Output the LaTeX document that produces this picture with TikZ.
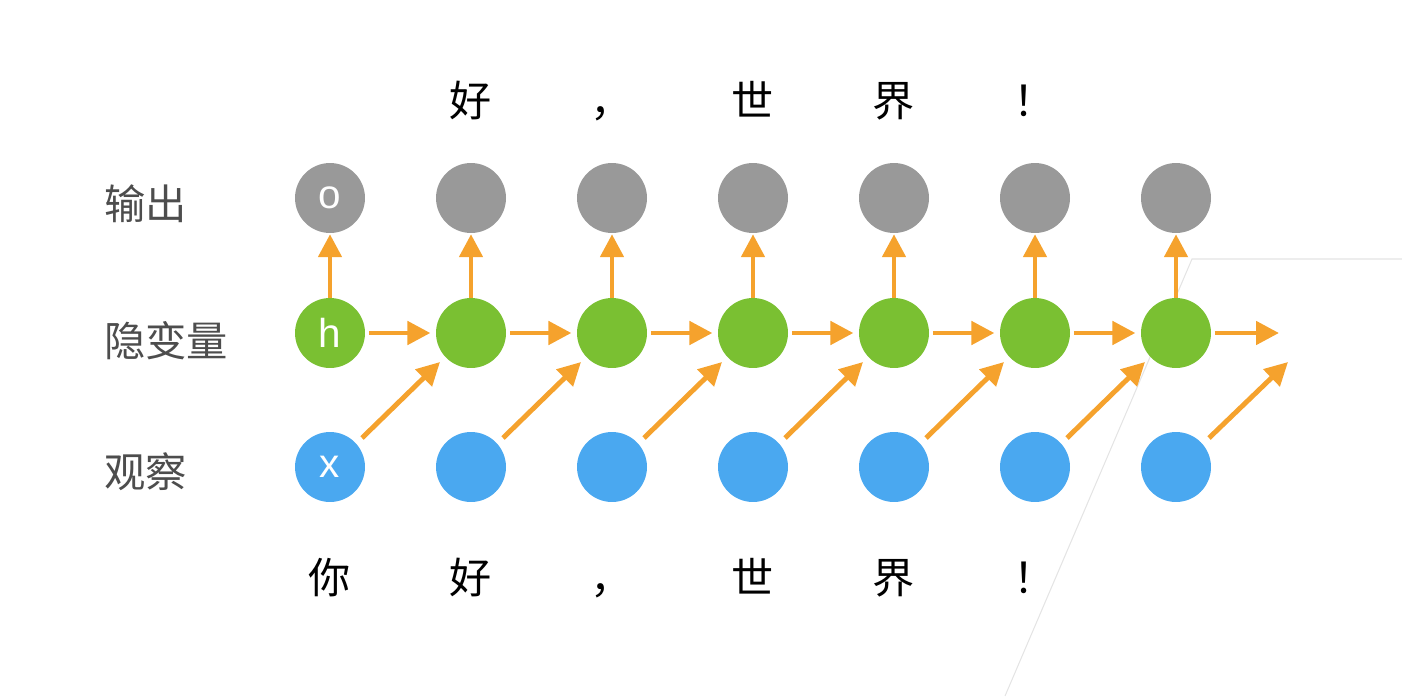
\documentclass[tikz,border=0pt]{standalone}
\usepackage{fontspec}
\setmainfont{Noto Sans CJK SC}
\newfontfamily\unitfont{Liberation Sans}
\usetikzlibrary{calc}
\usetikzlibrary{arrows.meta}
\usetikzlibrary{positioning}

\definecolor{outgray}{HTML}{999999}
\definecolor{hidgreen}{HTML}{7AC032}
\definecolor{obsblue}{HTML}{4AA8F0}
\definecolor{arrorange}{HTML}{F5A22D}
\definecolor{labelgray}{HTML}{4D4D4D}
\definecolor{faintline}{HTML}{E4E4E4}

\tikzset{
  unit/.style={circle, minimum size=1.4cm, inner sep=0pt, text=white, font=\unitfont\fontsize{23}{23}\selectfont},
  outunit/.style={unit, fill=outgray},
  hidunit/.style={unit, fill=hidgreen},
  obsunit/.style={unit, fill=obsblue},
  flow/.style={draw=arrorange, line width=2.8pt, -{Triangle[length=0.46cm,width=0.46cm]}},
  word/.style={inner sep=0pt, text height=0.88em, text depth=0.12em, font=\fontsize{24}{24}\selectfont},
  rowlabel/.style={anchor=west, inner sep=0pt, text=labelgray, font=\fontsize{23.5}{23.5}\selectfont}
}

\begin{document}
\begin{tikzpicture}[x=0.02cm, y=-0.02cm]
\useasboundingbox (0,0) rectangle (1402,696);

% faint frame lines at the right
\draw[faintline, line width=0.6pt] (1005,696) -- (1192,259) -- (1402,259);

% row labels
\node[rowlabel] (lout) at (104,204) {输出};
\node[rowlabel] (lhid) at (104,341) {隐变量};
\node[rowlabel] (lobs) at (104,472) {观察};

% units
\node[outunit] (o1) at (330,198) {\raisebox{-1.5pt}{o}};
\node[hidunit] (h1) at (330,333) {h};
\node[obsunit] (x1) at (330,467) {\raisebox{-1.5pt}{x}};
\foreach \i in {2,...,7} {
   \pgfmathsetmacro\cx{330+141*(\i-1)}
   \node[outunit] (o\i) at (\cx,198) {};
   \node[hidunit] (h\i) at (\cx,333) {};
   \node[obsunit] (x\i) at (\cx,467) {};
}
\coordinate (hnext) at (1279,333);
\coordinate (xnext) at (1288,362);

% words
\foreach \i/\w in {2/好, 3/，, 4/世, 5/界, 6/！} {
   \node[word] (out\i) at ($(o\i)+(0,-88)$) {\w};
}
\foreach \i/\w in {1/你, 2/好, 3/，, 4/世, 5/界, 6/！} {
   \node[word] (in\i) at ($(x\i)+(0,120)$) {\w};
}

% connectors
\foreach \i in {1,...,7} {
   \draw[flow, shorten >=0.5pt] (h\i.north) -- (o\i.south);
}
\foreach \i [evaluate=\i as \j using int(\i+1)] in {1,...,6} {
   \draw[flow, shorten <=2pt, shorten >=3pt] (h\i.east) -- (h\j.west);
   \draw[flow] ($(x\i)+(32,-29)$) -- ($(h\j)+(-31,29)$);
}
\draw[flow, shorten <=2pt] (h7.east) -- (hnext);
\draw[flow] ($(x7)+(33,-29)$) -- (xnext);
\end{tikzpicture}
\end{document}
